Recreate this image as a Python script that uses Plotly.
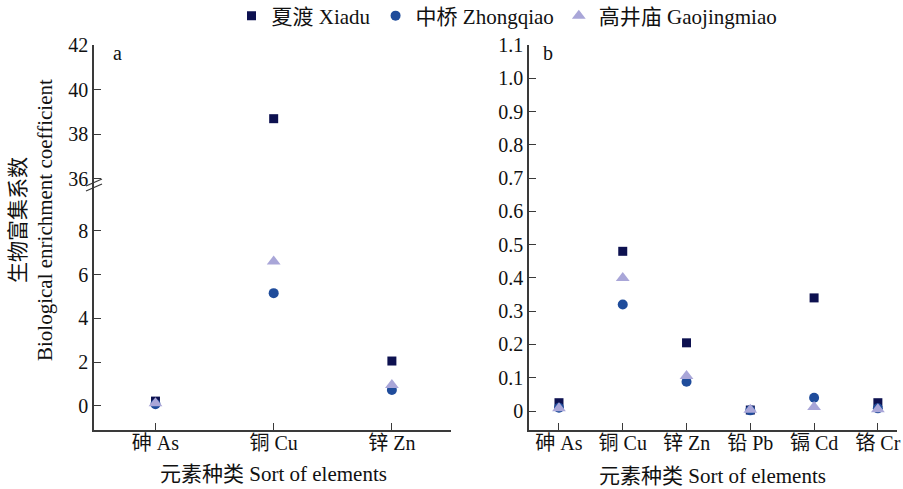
import plotly.graph_objects as go

# ---- data ----
series_names = ["夏渡 Xiadu", "中桥 Zhongqiao", "高井庙 Gaojingmiao"]
series_colors = ["#0d1150", "#1f4c9b", "#a9a6d8"]
series_symbols = ["square", "circle", "triangle-up"]
series_sizes = [9, 10, 12]

cats_a = ["砷 As", "铜 Cu", "锌 Zn"]
xiadu_a = [0.22, 38.7, 2.05]
zhongqiao_a = [0.08, 5.15, 0.73]
gaojingmiao_a = [0.12, 6.6, 0.96]

cats_b = ["砷 As", "铜 Cu", "锌 Zn", "铅 Pb", "镉 Cd", "铬 Cr"]
xiadu_b = [0.025, 0.48, 0.205, 0.003, 0.34, 0.025]
zhongqiao_b = [0.01, 0.32, 0.088, 0.002, 0.04, 0.008]
gaojingmiao_b = [0.008, 0.40, 0.105, 0.004, 0.012, 0.005]

ticks_a_low = [0, 2, 4, 6, 8]
ticks_a_high = [36, 38, 40, 42]
ticks_b = [0, 0.1, 0.2, 0.3, 0.4, 0.5, 0.6, 0.7, 0.8, 0.9, 1.0, 1.1]
ticks_b_text = ["0", "0.1", "0.2", "0.3", "0.4", "0.5", "0.6", "0.7", "0.8", "0.9", "1.0", "1.1"]

W, H = 903, 489
FONT = "Liberation Serif, Times New Roman, Noto Sans CJK SC, serif"
AX = "#3a3a3a"
FS = 20
FT = 21

def px(x):
    return x / W

def py(y):
    return 1 - y / H

fig = go.Figure()

vals_a = [xiadu_a, zhongqiao_a, gaojingmiao_a]
vals_b = [xiadu_b, zhongqiao_b, gaojingmiao_b]
for i, name in enumerate(series_names):
    mk = dict(color=series_colors[i], symbol=series_symbols[i], size=series_sizes[i])
    fig.add_trace(go.Scatter(x=cats_a, y=vals_a[i], mode="markers", marker=mk, name=name,
                             xaxis="x", yaxis="y", showlegend=True, legendgroup=name))
    fig.add_trace(go.Scatter(x=cats_a, y=vals_a[i], mode="markers", marker=mk, name=name,
                             xaxis="x", yaxis="y3", showlegend=False, legendgroup=name))
    fig.add_trace(go.Scatter(x=cats_b, y=vals_b[i], mode="markers", marker=mk, name=name,
                             xaxis="x2", yaxis="y2", showlegend=False, legendgroup=name))

tickfont = dict(family=FONT, size=FS, color="#111")
common_x = dict(showline=True, linecolor=AX, linewidth=1.5, ticks="inside", ticklen=7,
                tickcolor=AX, tickwidth=1.2, showgrid=False, zeroline=False, tickfont=tickfont,
                type="category", mirror=False, automargin=False, ticklabelstandoff=-6)
common_y = dict(showline=True, linecolor=AX, linewidth=1.5, ticks="inside", ticklen=7,
                tickcolor=AX, tickwidth=1.2, showgrid=False, zeroline=False, tickfont=tickfont,
                automargin=False)

break_y = 183
fig.update_layout(
    width=W, height=H,
    margin=dict(l=0, r=0, t=0, b=0, autoexpand=False),
    plot_bgcolor="white", paper_bgcolor="white",
    font=dict(family=FONT, size=FS, color="#111"),
    xaxis=dict(domain=[px(94), px(451)], anchor="y", range=[-0.52, 2.5], **common_x),
    yaxis=dict(domain=[py(430), py(break_y)], anchor="x", range=[-1.1, 10.18],
               tickvals=ticks_a_low, **common_y),
    yaxis3=dict(domain=[py(break_y), py(45)], anchor="x", range=[35.82, 42],
                tickvals=ticks_a_high, **common_y),
    xaxis2=dict(domain=[px(529), px(897)], anchor="y2", range=[-0.47, 5.3], **common_x),
    yaxis2=dict(domain=[py(430), py(45)], anchor="x2", range=[-0.057, 1.1],
                tickvals=ticks_b, ticktext=ticks_b_text, **common_y),
    legend=dict(orientation="h", x=px(507), xanchor="center", y=py(16), yanchor="middle",
                font=dict(family=FONT, size=FT), bgcolor="rgba(0,0,0,0)",
                itemwidth=30, tracegroupgap=0),
)

# x-axis titles
fig.add_annotation(x=px(273), y=py(474), xref="paper", yref="paper", text="元素种类 Sort of elements",
                   showarrow=False, xanchor="center", yanchor="middle", font=dict(family=FONT, size=FT))
fig.add_annotation(x=px(712), y=py(476), xref="paper", yref="paper", text="元素种类 Sort of elements",
                   showarrow=False, xanchor="center", yanchor="middle", font=dict(family=FONT, size=FT))
# panel labels
fig.add_annotation(x=px(118), y=py(53), xref="paper", yref="paper", text="a", showarrow=False,
                   xanchor="center", yanchor="middle", font=dict(family=FONT, size=FS))
fig.add_annotation(x=px(548), y=py(53), xref="paper", yref="paper", text="b", showarrow=False,
                   xanchor="center", yanchor="middle", font=dict(family=FONT, size=FS))
# y-axis title
fig.add_annotation(x=px(32), y=py(220), xref="paper", yref="paper",
                   text="生物富集系数<br>Biological enrichment coefficient", showarrow=False,
                   xanchor="center", yanchor="middle",
                   textangle=-90, font=dict(family=FONT, size=FT), align="center")

# axis break marks
fig.add_shape(type="line", xref="paper", yref="paper", x0=px(86), y0=py(186), x1=px(102), y1=py(179),
              line=dict(color=AX, width=1.3))
fig.add_shape(type="line", xref="paper", yref="paper", x0=px(86), y0=py(191), x1=px(102), y1=py(184),
              line=dict(color=AX, width=1.3))

# remove the browser's default 8px body margin so the figure fills the window exactly
fig.write_html("out.html", config={"displayModeBar": False},
               post_script="document.body.style.margin='0';document.body.style.overflow='hidden';")
